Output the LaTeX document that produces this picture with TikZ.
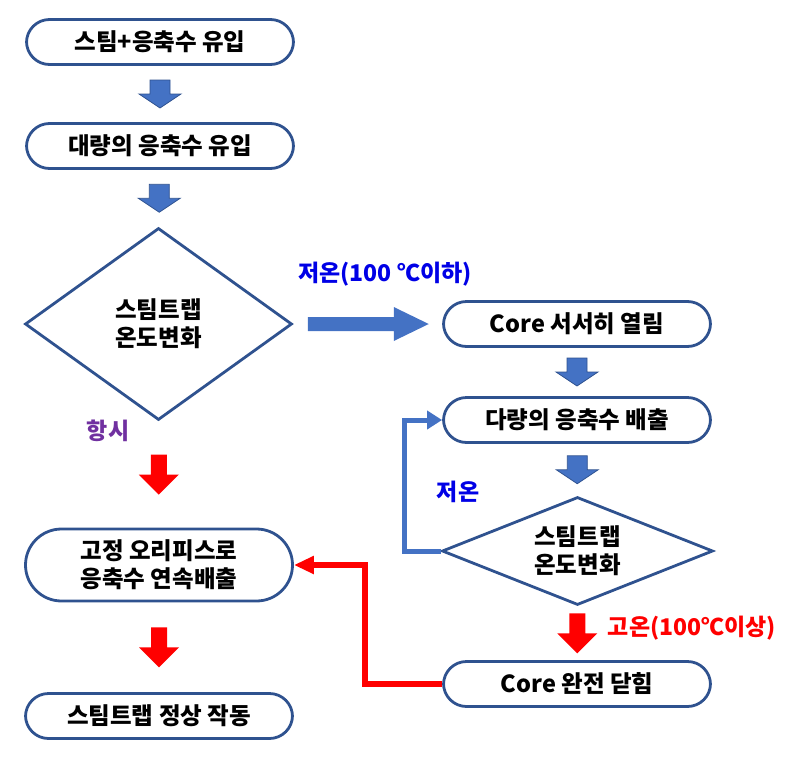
\documentclass[tikz,border=0pt]{standalone}
\usepackage{fontspec}
\setmainfont{Noto Sans CJK KR}
\usetikzlibrary{shapes.geometric,arrows.meta,calc}

\definecolor{boxline}{RGB}{47,82,143}
\definecolor{arrowblue}{RGB}{68,114,196}
\definecolor{lowblue}{RGB}{0,0,230}
\definecolor{alwayspurple}{RGB}{112,48,160}

% block arrow pointing down, centred between two nodes
\newcommand\dnblock[6]{%
	\path[#3] ($(#1.south)!.5!(#2.north)$) ++(-#4,-#6) -- ++(2*#4,0) -- ++(0,#6) -- ++(#5-#4,0) -- ++(-#5,#6) -- ++(-#5,-#6) -- ++(#5-#4,0) -- cycle;}

\begin{document}
\begin{tikzpicture}[x=1pt,y=-1pt,
	stepbox/.style={draw=boxline,line width=2.8pt,rounded corners=23pt,minimum width=267pt,minimum height=45pt,inner sep=0pt,align=center,font=\bfseries\fontsize{23.5}{28}\selectfont},
	decision/.style={diamond,draw=boxline,line width=2.8pt,inner sep=0pt,align=center,font=\bfseries\fontsize{23.5}{28}\selectfont},
	tag/.style={font=\bfseries\fontsize{23}{26}\selectfont},
	bluefill/.style={fill=arrowblue,draw=boxline,line width=0.8pt},
	redfill/.style={fill=red}]
	\useasboundingbox (0,0) rectangle (788,764);

	\node[stepbox] (inflow) at (160,42) {스팀+응축수 유입};
	\node[stepbox] (mass) at (160,146) {대량의 응축수 유입};
	\node[decision,aspect=1.39,minimum width=267pt,minimum height=192pt] (trap) at (158.5,324) {스팀트랩\\온도변화};
	\node[stepbox,minimum height=72pt,rounded corners=36pt] (orifice) at (159,565) {고정 오리피스로\\응축수 연속배출};
	\node[stepbox] (normal) at (159,716) {스팀트랩 정상 작동};

	\node[stepbox] (open) at (577,324) {Core 서서히 열림};
	\node[stepbox] (drain) at (577,420) {다량의 응축수 배출};
	\node[decision,aspect=2.5,minimum width=271pt,minimum height=108pt] (trapb) at (577.5,551) {스팀트랩\\온도변화};
	\node[stepbox] (shut) at (577,684) {Core 완전 닫힘};

	% block arrows
	\dnblock{inflow}{mass}{bluefill}{10}{21}{14}
	\dnblock{mass}{trap}{bluefill}{10}{21}{14}
	\dnblock{open}{drain}{bluefill}{10}{21}{14}
	\dnblock{drain}{trapb}{bluefill}{10}{21}{14}
	\dnblock{trap}{orifice}{redfill}{8}{20}{20}
	\dnblock{orifice}{normal}{redfill}{8}{20}{20}
	\dnblock{trapb}{shut}{redfill}{8}{20}{20}
	\path[fill=arrowblue] ($(trap.east)!.5!(open.west)$) ++(-60,-7) -- ++(86,0) -- ++(0,-10) -- ++(35,17) -- ++(-35,17) -- ++(0,-10) -- ++(-86,0) -- cycle;

	% loop lines
	\draw[arrowblue,line width=5pt,-{Triangle[length=15pt,width=18pt]}] (trapb.west) -- ++(-36,0) |- (drain.west);
	\draw[red,line width=6pt,-{Triangle[length=20pt,width=17pt]}] (shut.west) -- ++(-77,0) |- (orifice.east);

	\node[tag,text=lowblue] (lowa) at (385,274) {저온(100 ℃이하)};
	\node[tag,text=alwayspurple] (always) at (108,431) {항시};
	\node[tag,text=lowblue] (lowb) at (458,492) {저온};
	\node[tag,text=red] (hot) at (692,628) {고온(100℃이상)};
\end{tikzpicture}
\end{document}
